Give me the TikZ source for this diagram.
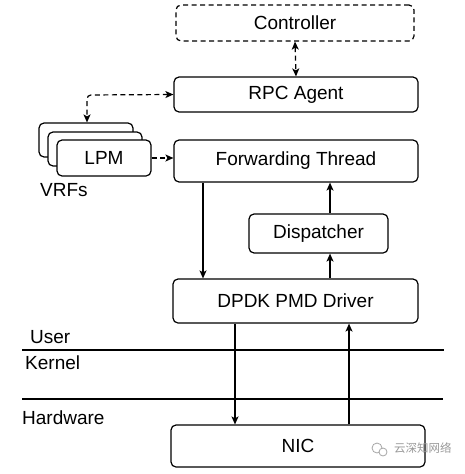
\documentclass[tikz,border=0pt]{standalone}
\usepackage{fontspec}
\setmainfont{Liberation Sans}
\newfontfamily\cjkfont{Noto Sans CJK SC}
\usetikzlibrary{arrows.meta}
\begin{document}
\begin{tikzpicture}[x=1pt,y=-1pt,
  box/.style={draw,line width=1.2pt,rounded corners=5pt,fill=white,inner sep=0pt,
    font=\fontsize{19}{22}\selectfont},
  dsh/.style={dash pattern=on 5pt off 3.5pt},
  conn/.style={line width=1.2pt,-{Stealth[length=8pt,width=7pt,inset=2pt]}},
  dconn/.style={line width=1.2pt,dsh,
    {Stealth[length=8pt,width=7pt,inset=2pt]}-{Stealth[length=8pt,width=7pt,inset=2pt]}},
  lbl/.style={font=\fontsize{19}{22}\selectfont,inner sep=0pt,anchor=west}]
\useasboundingbox (0,0) rectangle (465,474);
% boxes
\node[box,dsh,minimum width=238pt,minimum height=36pt] (ctrl) at (295,23) {Controller};
\node[box,minimum width=244pt,minimum height=35pt] (rpc) at (296,94.5) {RPC Agent};
\node[box,minimum width=244pt,minimum height=42pt] (fwd) at (296,161) {Forwarding Thread};
\node[box,minimum width=139pt,minimum height=39pt] (disp) at (318.5,233.5) {Dispatcher};
\node[box,minimum width=245pt,minimum height=44pt] (dpdk) at (295.5,301) {DPDK PMD Driver};
\node[box,minimum width=254pt,minimum height=42pt] (nic) at (298,446) {NIC};
% LPM stack
\node[box,minimum width=94pt,minimum height=34pt] (lpm3) at (86,140) {};
\node[box,minimum width=94pt,minimum height=34pt] (lpm2) at (95,149) {};
\node[box,minimum width=94pt,minimum height=36pt] (lpm) at (104,158) {LPM};
\node[lbl] (vrfs) at (40,190) {VRFs};
% layer lines and labels
\draw[line width=1.8pt] (22,350) -- (444,350);
\draw[line width=1.2pt] (22,399) -- (443,399);
\node[lbl] (user) at (30,337) {User};
\node[lbl] (kernel) at (25,363) {Kernel};
\node[lbl] (hw) at (22,418) {Hardware};
% helper coordinates
\coordinate (xa) at (203,0);
\coordinate (xb) at (330,0);
\coordinate (xc) at (235,0);
\coordinate (xd) at (349,0);
\coordinate (corner) at (87,95);
% connectors
\draw[dconn] (ctrl.south) -- (rpc.north);
\draw[dconn,rounded corners=4pt] (rpc.west) -- (corner) -- (corner |- lpm3.north);
\draw[line width=1.2pt,dsh,-{Stealth[length=8pt,width=7pt,inset=2pt]}] (lpm.east) -- (fwd.west |- lpm.east);
\draw[conn] (fwd.south -| xa) -- (dpdk.north -| xa);
\draw[conn] (disp.north -| xb) -- (fwd.south -| xb);
\draw[conn] (dpdk.north -| xb) -- (disp.south -| xb);
\draw[conn] (dpdk.south -| xc) -- (nic.north -| xc);
\draw[conn] (nic.north -| xd) -- (dpdk.south -| xd);
% watermark
\draw[gray!70,line width=0.8pt] (377,448) circle (5pt);
\draw[gray!70,line width=0.8pt,fill=white] (383,452) circle (4pt);
\node[inner sep=0pt,anchor=west,text=gray!80,font=\cjkfont\fontsize{11.5}{13}\selectfont] (wm) at (394,448) {云深知网络};
\end{tikzpicture}
\end{document}
